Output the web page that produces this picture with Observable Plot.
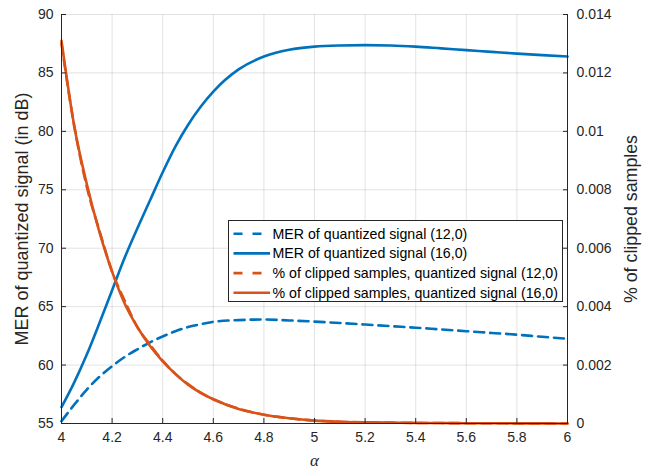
<!DOCTYPE html>
<html>
<head>
<meta charset="utf-8">
<script src="https://cdn.jsdelivr.net/npm/d3@7"></script>
<script src="https://cdn.jsdelivr.net/npm/@observablehq/plot@0.6"></script>
<style>
  html, body { margin: 0; padding: 0; background: #fff; }
  #wrap { position: relative; width: 652px; height: 472px; font-family: "Liberation Sans", Arial, sans-serif; }
  #legend { position: absolute; left: 228px; top: 220px; width: 335px; height: 82px; border: 1px solid #262626; background: #fff; box-sizing: border-box; }
  #legend svg { position: absolute; left: 0; top: 0; }
</style>
</head>
<body>
<div id="wrap"><div id="chart"></div><div id="legend"></div></div>
<script>
// ---- data ----
const alpha = [4.0, 4.05, 4.1, 4.15, 4.2, 4.25, 4.3, 4.35, 4.4, 4.45, 4.5, 4.55, 4.6, 4.7, 4.8, 4.9, 5.0, 5.1, 5.2, 5.3, 5.4, 5.5, 5.6, 5.7, 5.8, 5.9, 6.0];
const merQ12 = [55.2, 56.6, 57.9, 59.0, 59.9, 60.7, 61.35, 61.95, 62.45, 62.9, 63.25, 63.5, 63.7, 63.85, 63.9, 63.82, 63.72, 63.6, 63.47, 63.33, 63.2, 63.05, 62.9, 62.75, 62.6, 62.42, 62.25];
const merQ16 = [56.4, 58.5, 60.9, 63.6, 66.4, 69.2, 71.7, 74.1, 76.5, 78.7, 80.55, 82.1, 83.4, 85.3, 86.4, 86.98, 87.25, 87.35, 87.38, 87.35, 87.25, 87.1, 86.95, 86.8, 86.65, 86.52, 86.4];
const clipQ12 = [0.0130, 0.0102, 0.0081, 0.0066, 0.0052, 0.0042, 0.0033, 0.0027, 0.00215, 0.0017, 0.00135, 0.00106, 0.00083, 0.00051, 0.0003, 0.00018, 0.0001, 0.00006, 0.00004, 0.00003, 0.00002, 0.000015, 0.00001, 0.000008, 0.000005, 0.000003, 0.000002];
const clipQ16 = [0.0131, 0.0102, 0.0082, 0.00655, 0.0052, 0.0041, 0.0033, 0.00265, 0.00213, 0.0017, 0.00133, 0.00105, 0.00083, 0.0005, 0.0003, 0.00018, 0.0001, 0.00006, 0.00004, 0.00003, 0.00002, 0.000015, 0.00001, 0.000008, 0.000005, 0.000003, 0.000002];

const xTicks = [4, 4.2, 4.4, 4.6, 4.8, 5, 5.2, 5.4, 5.6, 5.8, 6];
const yLeftTicks = [55, 60, 65, 70, 75, 80, 85, 90];
const yRightTicks = [0, 0.002, 0.004, 0.006, 0.008, 0.01, 0.012, 0.014];
const yRightLabels = ["0", "0.002", "0.004", "0.006", "0.008", "0.01", "0.012", "0.014"];

const seriesNames = [
  "MER of quantized signal (12,0)",
  "MER of quantized signal (16,0)",
  "% of clipped samples, quantized signal (12,0)",
  "% of clipped samples, quantized signal (16,0)"
];
const xLabel = "α";
const yLeftLabel = "MER of quantized signal (in dB)";
const yRightLabel = "% of clipped samples";

// ---- styles ----
const BLUE = "#0072BD", ORANGE = "#D95319", INK = "#262626";
const DASH = "10,6";

// right axis maps onto left domain
const leftDomain = [55, 90], rightDomain = [0, 0.014];
const toLeft = d3.scaleLinear().domain(rightDomain).range(leftDomain);
const yRightPos = yRightTicks.map(toLeft);

const rows = (ys, map) => alpha.map((a, i) => ({a, v: map ? map(ys[i]) : ys[i]}));
const dMer12 = rows(merQ12), dMer16 = rows(merQ16);
const dClip12 = rows(clipQ12, toLeft), dClip16 = rows(clipQ16, toLeft);

const chart = Plot.plot({
  width: 652, height: 472,
  marginLeft: 61, marginRight: 85, marginTop: 14, marginBottom: 49,
  x: {domain: [4, 6]},
  y: {domain: leftDomain},
  style: {fontFamily: "'Liberation Sans', Arial, sans-serif", fontSize: "14px", color: INK, background: "#fff", overflow: "visible"},
  marks: [
    Plot.gridX(xTicks, {stroke: INK, strokeOpacity: 0.13}),
    Plot.gridY(yLeftTicks, {stroke: INK, strokeOpacity: 0.13}),
    Plot.line(dMer12, {x: "a", y: "v", stroke: BLUE, strokeWidth: 2.6, strokeDasharray: DASH, curve: "monotone-x"}),
    Plot.line(dMer16, {x: "a", y: "v", stroke: BLUE, strokeWidth: 2.6, curve: "monotone-x"}),
    Plot.line(dClip12, {x: "a", y: "v", stroke: ORANGE, strokeWidth: 2.6, strokeDasharray: DASH, curve: "monotone-x"}),
    Plot.line(dClip16, {x: "a", y: "v", stroke: ORANGE, strokeWidth: 2.6, curve: "monotone-x"}),
    Plot.ruleX([4, 6], {stroke: INK, strokeWidth: 1}),
    Plot.ruleY([55], {stroke: INK, strokeWidth: 1}),
    Plot.axisX(xTicks, {tickSize: 0, tickPadding: 9, label: null, tickFormat: d => String(d), fill: INK, fontSize: 14}),
    Plot.axisX(xTicks, {tickSize: -5, text: null, label: null, stroke: INK}),
    Plot.axisY(yLeftTicks, {anchor: "left", tickSize: 0, tickPadding: 8, label: null, fill: INK, fontSize: 14}),
    Plot.axisY(yLeftTicks, {anchor: "left", tickSize: -5, text: null, label: null, stroke: INK}),
    Plot.axisY(yRightPos, {anchor: "right", tickSize: 0, tickPadding: 9, label: null, fill: INK, fontSize: 14,
      tickFormat: d => yRightLabels[yRightPos.indexOf(d)]}),
    Plot.axisY(yRightPos, {anchor: "right", tickSize: -5, text: null, label: null, stroke: INK}),
    Plot.text([yLeftLabel], {frameAnchor: "left", textAnchor: "middle", rotate: -90, dx: -39, fontSize: 18, fill: INK}),
    Plot.text([yRightLabel], {frameAnchor: "right", textAnchor: "middle", rotate: -90, dx: 64, fontSize: 17.8, fill: INK}),
    Plot.text([xLabel], {frameAnchor: "bottom", dy: 42, fontSize: 17, fontStyle: "italic", fontFamily: "'Liberation Serif', 'DejaVu Serif', serif", fill: INK})
  ]
});
document.getElementById("chart").appendChild(chart);

// ---- legend ----
const legendItems = [
  {name: seriesNames[0], color: BLUE, dash: "9,10"},
  {name: seriesNames[1], color: BLUE, dash: null},
  {name: seriesNames[2], color: ORANGE, dash: "9,10"},
  {name: seriesNames[3], color: ORANGE, dash: null}
];
const lg = d3.select("#legend").append("svg").attr("width", 335).attr("height", 82);
legendItems.forEach((it, i) => {
  const cy = 12.7 + i * 19.7;
  const ln = lg.append("line").attr("x1", 4.5).attr("x2", 41).attr("y1", cy).attr("y2", cy)
    .attr("stroke", it.color).attr("stroke-width", 2.6);
  if (it.dash) ln.attr("stroke-dasharray", it.dash);
  lg.append("text").attr("x", 43.5).attr("y", cy).attr("dy", "0.35em")
    .attr("font-size", 14.2).attr("fill", "#000").attr("font-family", "'Liberation Sans', Arial, sans-serif").text(it.name);
});
</script>
</body>
</html>
